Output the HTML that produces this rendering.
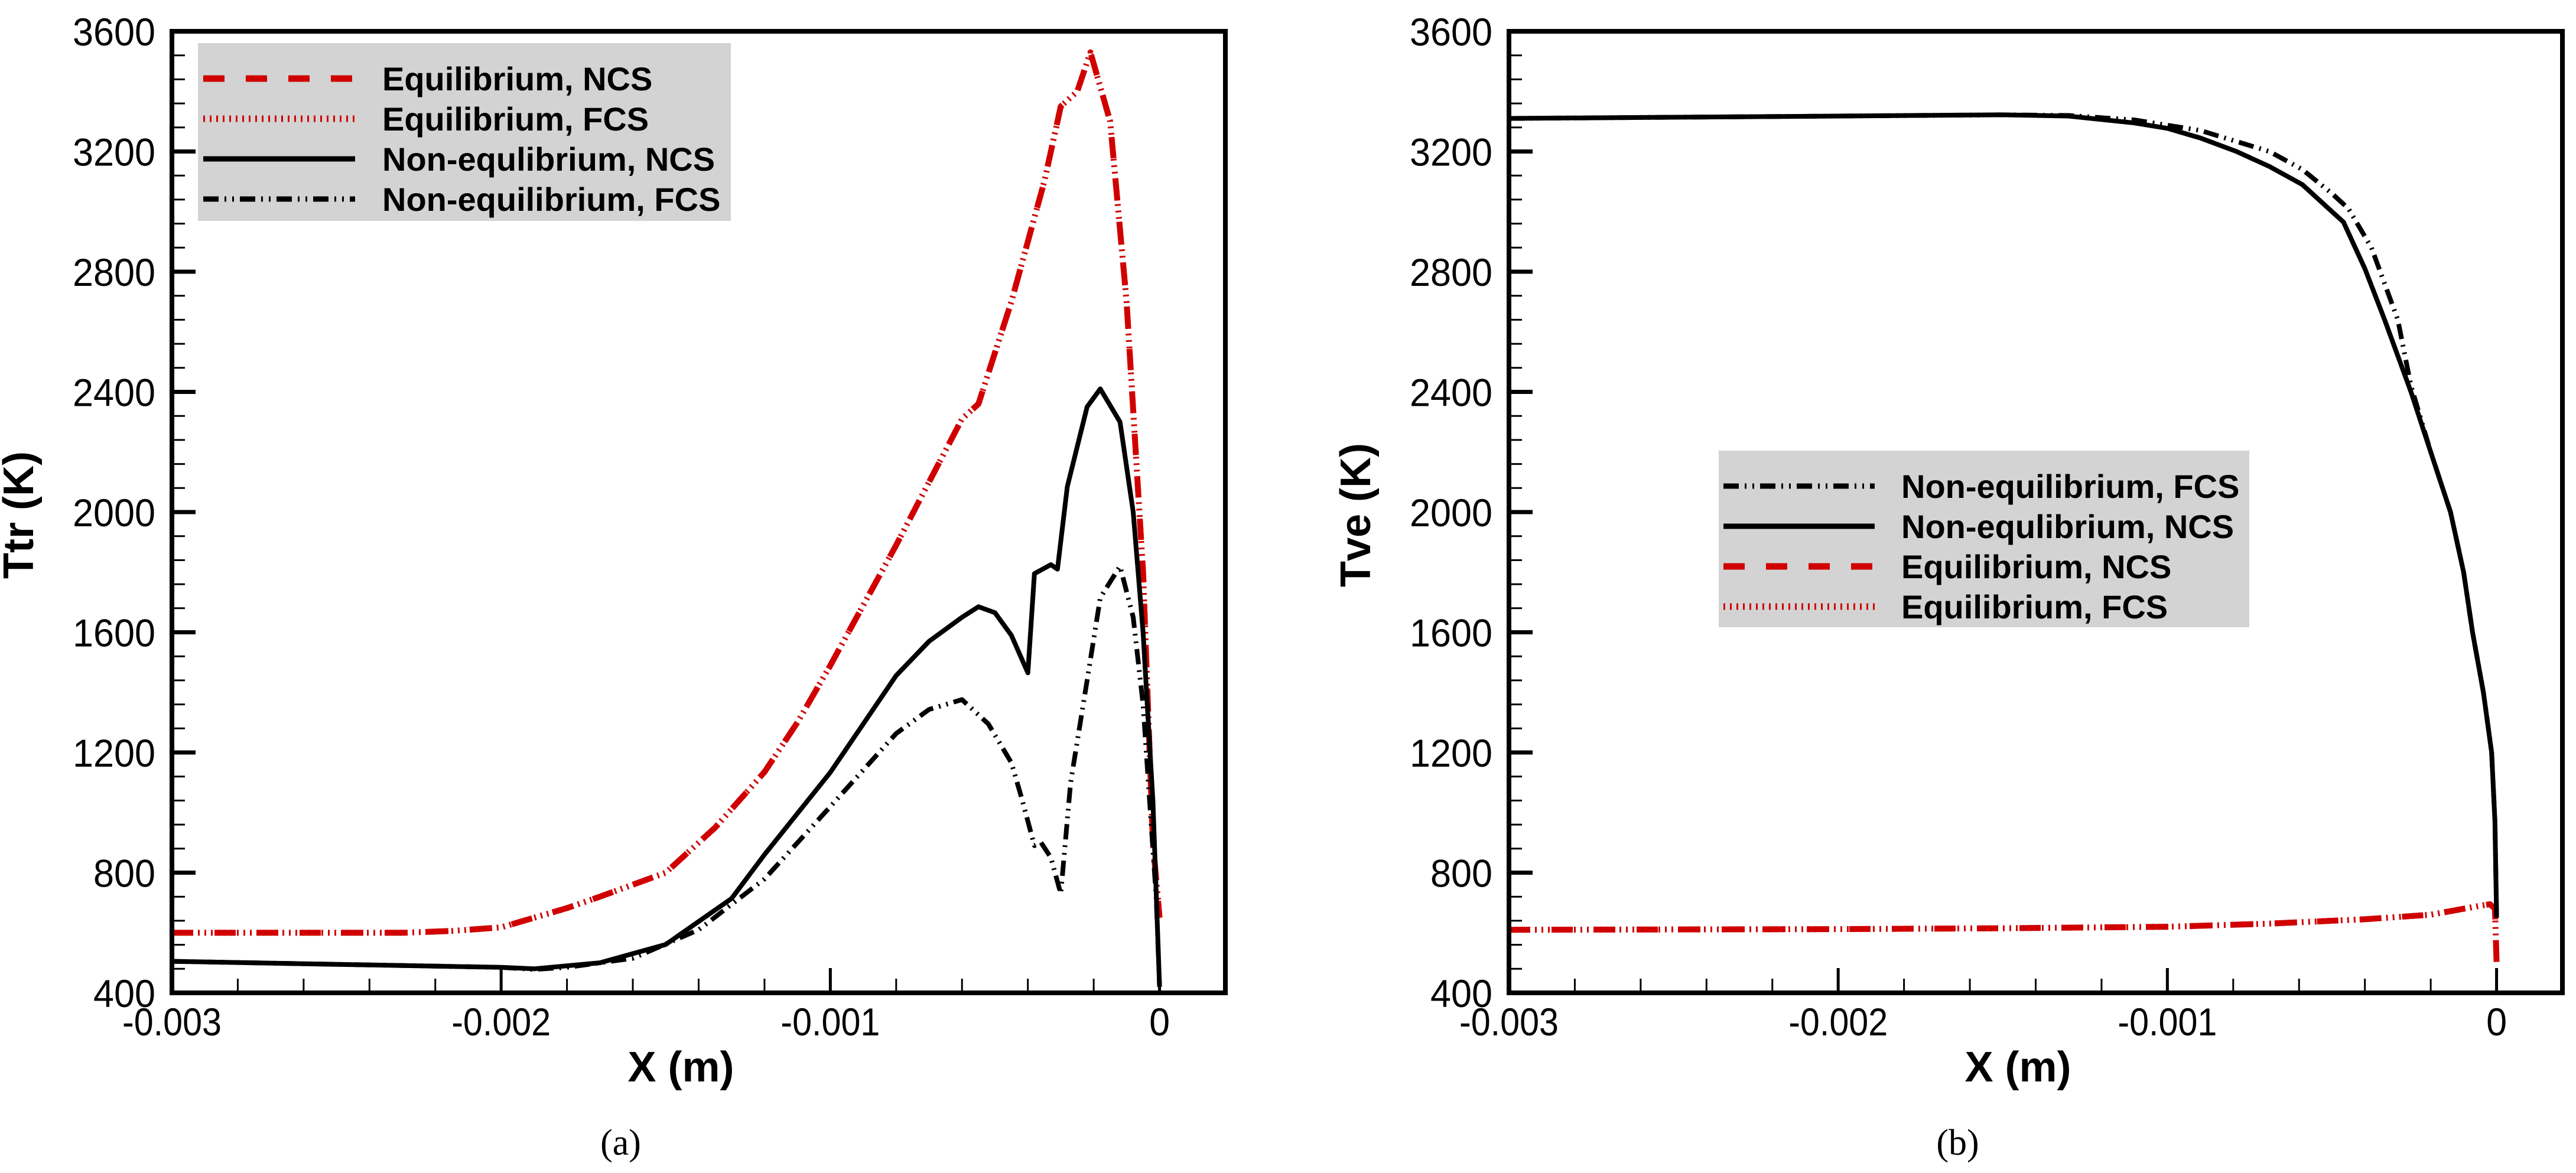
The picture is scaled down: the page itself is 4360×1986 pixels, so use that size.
<!DOCTYPE html>
<html><head><meta charset="utf-8"><style>
html,body{margin:0;padding:0;background:#fff;}
svg{display:block;}
.tick{font-family:"Liberation Sans",sans-serif;font-size:66px;fill:#000;}
.leg{font-family:"Liberation Sans",sans-serif;font-weight:bold;font-size:56px;fill:#000;}
.ttl{font-family:"Liberation Sans",sans-serif;font-weight:bold;font-size:72px;fill:#000;}
.cap{font-family:"Liberation Serif",serif;font-size:62px;fill:#000;}
</style></head><body>
<svg id="fig" width="4360" height="1986" viewBox="0 0 4360 1986" xmlns="http://www.w3.org/2000/svg"></svg>
<script>
// ---- data (x in mm, T in K) ----
const eqX = [-3,-2.6,-2.3,-2.15,-2.0,-1.8,-1.7,-1.5,-1.35,-1.2,-1.1,-1.0,-0.9,-0.8,-0.7,-0.6,-0.55,-0.45,-0.35,-0.3,-0.25,-0.21,-0.15,-0.1,-0.05,-0.02,0];
const eqT = [600,600,600,606,618,682,720,800,950,1135,1300,1490,1690,1890,2100,2310,2360,2700,3100,3350,3400,3530,3300,2700,1800,900,650];
const neqNX = [-3,-2.5,-2.0,-1.9,-1.7,-1.5,-1.3,-1.2,-1.0,-0.8,-0.7,-0.6,-0.55,-0.5,-0.45,-0.4,-0.38,-0.33,-0.31,-0.28,-0.22,-0.18,-0.12,-0.08,-0.05,-0.02,0];
const neqNT = [505,495,485,480,500,561,714,860,1134,1456,1570,1650,1685,1665,1590,1465,1795,1825,1810,2085,2350,2410,2300,2000,1600,1037,420];
const neqFX = [-3,-2.5,-2.0,-1.9,-1.8,-1.6,-1.4,-1.2,-1.0,-0.8,-0.7,-0.6,-0.52,-0.45,-0.42,-0.38,-0.36,-0.33,-0.3,-0.27,-0.22,-0.18,-0.12,-0.08,-0.05,-0.03,-0.01,0];
const neqFT = [505,495,485,478,485,515,610,779,1020,1263,1343,1376,1295,1166,1053,890,900,850,730,1100,1440,1715,1820,1650,1360,1037,715,420];
const veNX = [-3,-2,-1.5,-1.3,-1.1,-1.0,-0.9,-0.79,-0.69,-0.59,-0.5,-0.465,-0.4,-0.34,-0.26,-0.2,-0.14,-0.1,-0.073,-0.04,-0.015,-0.005,0];
const veNT = [3310,3318,3322,3318,3295,3277,3245,3200,3150,3090,3000,2965,2810,2640,2400,2200,2000,1800,1600,1400,1200,970,650];
const veFX = [-3,-2,-1.5,-1.3,-1.1,-0.9,-0.69,-0.59,-0.5,-0.45,-0.38,-0.3,-0.26,-0.2,-0.14,-0.1,-0.073,-0.04,-0.015,-0.005,0];
const veFT = [3310,3318,3322,3320,3305,3270,3200,3140,3060,3010,2880,2640,2420,2200,2000,1800,1600,1400,1200,970,650];
const veEX = [-3,-2,-1.5,-1.0,-0.7,-0.4,-0.2,-0.05,-0.02,-0.005,0];
const veET = [610,612,615,620,630,645,660,690,695,680,500];
const yTicks = [400,800,1200,1600,2000,2400,2800,3200,3600];
const xTicks = [-0.003,-0.002,-0.001,0];
const xTickLabels = ["-0.003","-0.002","-0.001","0"];

const NS="http://www.w3.org/2000/svg";
const svg=document.getElementById('fig');
function mk(tag,attrs,parent){const e=document.createElementNS(NS,tag);for(const k in attrs)e.setAttribute(k,attrs[k]);(parent||svg).appendChild(e);return e;}
function tlen(s){let w=0;for(const c of s){w+= c==='-'?18:(c==='.'?10:35);}return w;}

const STY={
 eqN:{stroke:'#d00000',w:10,dash:'36,36'},
 eqF:{stroke:'#d00000',w:10,dash:'3,8'},
 nN:{stroke:'#000',w:8,dash:''},
 nF:{stroke:'#000',w:8,dash:'26,10,3,10,3,10'}
};

function panel(id,L,letter,ytitle,series,legend){
  const T=53,B=1681,R=L+1783;
  const sx=v=>L+(v+3)/3.2*(R-L);
  const sy=v=>B-(v-400)/3200*(B-T);
  const g=mk('g',{});  
  series.forEach(s=>{
    let d='';s.x.forEach((xv,i)=>{d+=(i?'L':'M')+sx(xv).toFixed(1)+','+sy(s.y[i]).toFixed(1);});
    const p=mk('path',{d:d,fill:'none',stroke:STY[s.st].stroke,'stroke-width':STY[s.st].w,'stroke-dasharray':STY[s.st].dash,'stroke-linejoin':'round'},g);
    
    
  });
  yTicks.forEach(v=>{
    const y=sy(v);
    const t=mk('line',{x1:L,x2:L+40,y1:y,y2:y,stroke:'#000','stroke-width':7},g);
     
    const s=String(v);
    const lb=mk('text',{x:L-28,y:y+24,'text-anchor':'end',class:'tick',textLength:tlen(s),lengthAdjust:'spacingAndGlyphs'},g); lb.textContent=s;
     
    if(v<3600){for(let k=1;k<5;k++){const yy=sy(v+k*80);
      const m=mk('line',{x1:L,x2:L+22,y1:yy,y2:yy,stroke:'#000','stroke-width':3},g);
       }}
  });
  for(let k=0;k<16;k++){const xv=-3+k*0.2;const x=sx(xv);
    const major=(k%5===0);
    const m=mk('line',{x1:x,x2:x,y1:B,y2:B-(major?42:24),stroke:'#000','stroke-width':major?5:3},g);
     }
  xTicks.forEach((v,i)=>{
    const s=xTickLabels[i];
    const lb=mk('text',{x:sx(v*1000),y:B+72,'text-anchor':'middle',class:'tick',textLength:tlen(s),lengthAdjust:'spacingAndGlyphs'},g); lb.textContent=s;
     
  });
  const fr=mk('rect',{x:L,y:T,width:R-L,height:B-T,fill:'none',stroke:'#000','stroke-width':8},g);
   
  const xt=mk('text',{x:(L+R)/2-30,y:B+150,'text-anchor':'middle',class:'ttl'},g); xt.textContent='X (m)';
   
  const ycx=L-235, ycy=872;
  const yt=mk('text',{x:ycx,y:ycy,'text-anchor':'middle',class:'ttl',transform:'rotate(-90 '+ycx+' '+ycy+')'},g); yt.textContent=ytitle;
   
  const cp=mk('text',{x:(L+R)/2-132,y:1955,'text-anchor':'middle',class:'cap'},g); cp.textContent='('+letter+')';
   
  const lg=mk('g',{},g);  
  mk('rect',{x:legend.x,y:legend.y,width:legend.w,height:legend.h,fill:'#d3d3d3'},lg);
  legend.rows.forEach((r,i)=>{
    const yy=legend.r0+i*legend.dy;
    const e=mk('g',{},lg);  
    mk('line',{x1:legend.lx1,x2:legend.lx2,y1:yy,y2:yy,stroke:STY[r.st].stroke,'stroke-width':STY[r.st].w+1,'stroke-dasharray':STY[r.st].dash},e);
    const t=mk('text',{x:legend.tx,y:yy+20,class:'leg'},e); t.textContent=r.label;
  });
}

panel('ttr',291,'a','Ttr (K)',[
  {name:'eq-ncs-line',x:eqX,y:eqT,st:'eqN'},
  {name:'eq-fcs-line',x:eqX,y:eqT,st:'eqF'},
  {name:'noneq-ncs-line',x:neqNX,y:neqNT,st:'nN'},
  {name:'noneq-fcs-line',x:neqFX,y:neqFT,st:'nF'}],
  {x:335,y:73,w:902,h:301,r0:133,dy:68,lx1:344,lx2:601,tx:647,rows:[
   {st:'eqN',label:'Equilibrium, NCS'},{st:'eqF',label:'Equilibrium, FCS'},
   {st:'nN',label:'Non-equlibrium, NCS'},{st:'nF',label:'Non-equilibrium, FCS'}]});

panel('tve',2554,'b','Tve (K)',[
  {name:'eq-ncs-line',x:veEX,y:veET,st:'eqN'},
  {name:'eq-fcs-line',x:veEX,y:veET,st:'eqF'},
  {name:'noneq-fcs-line',x:veFX,y:veFT,st:'nF'},
  {name:'noneq-ncs-line',x:veNX,y:veNT,st:'nN'}],
  {x:2909,y:763,w:898,h:299,r0:823,dy:68,lx1:2917,lx2:3173,tx:3218,rows:[
   {st:'nF',label:'Non-equilibrium, FCS'},{st:'nN',label:'Non-equlibrium, NCS'},
   {st:'eqN',label:'Equilibrium, NCS'},{st:'eqF',label:'Equilibrium, FCS'}]});
</script>
</body></html>
